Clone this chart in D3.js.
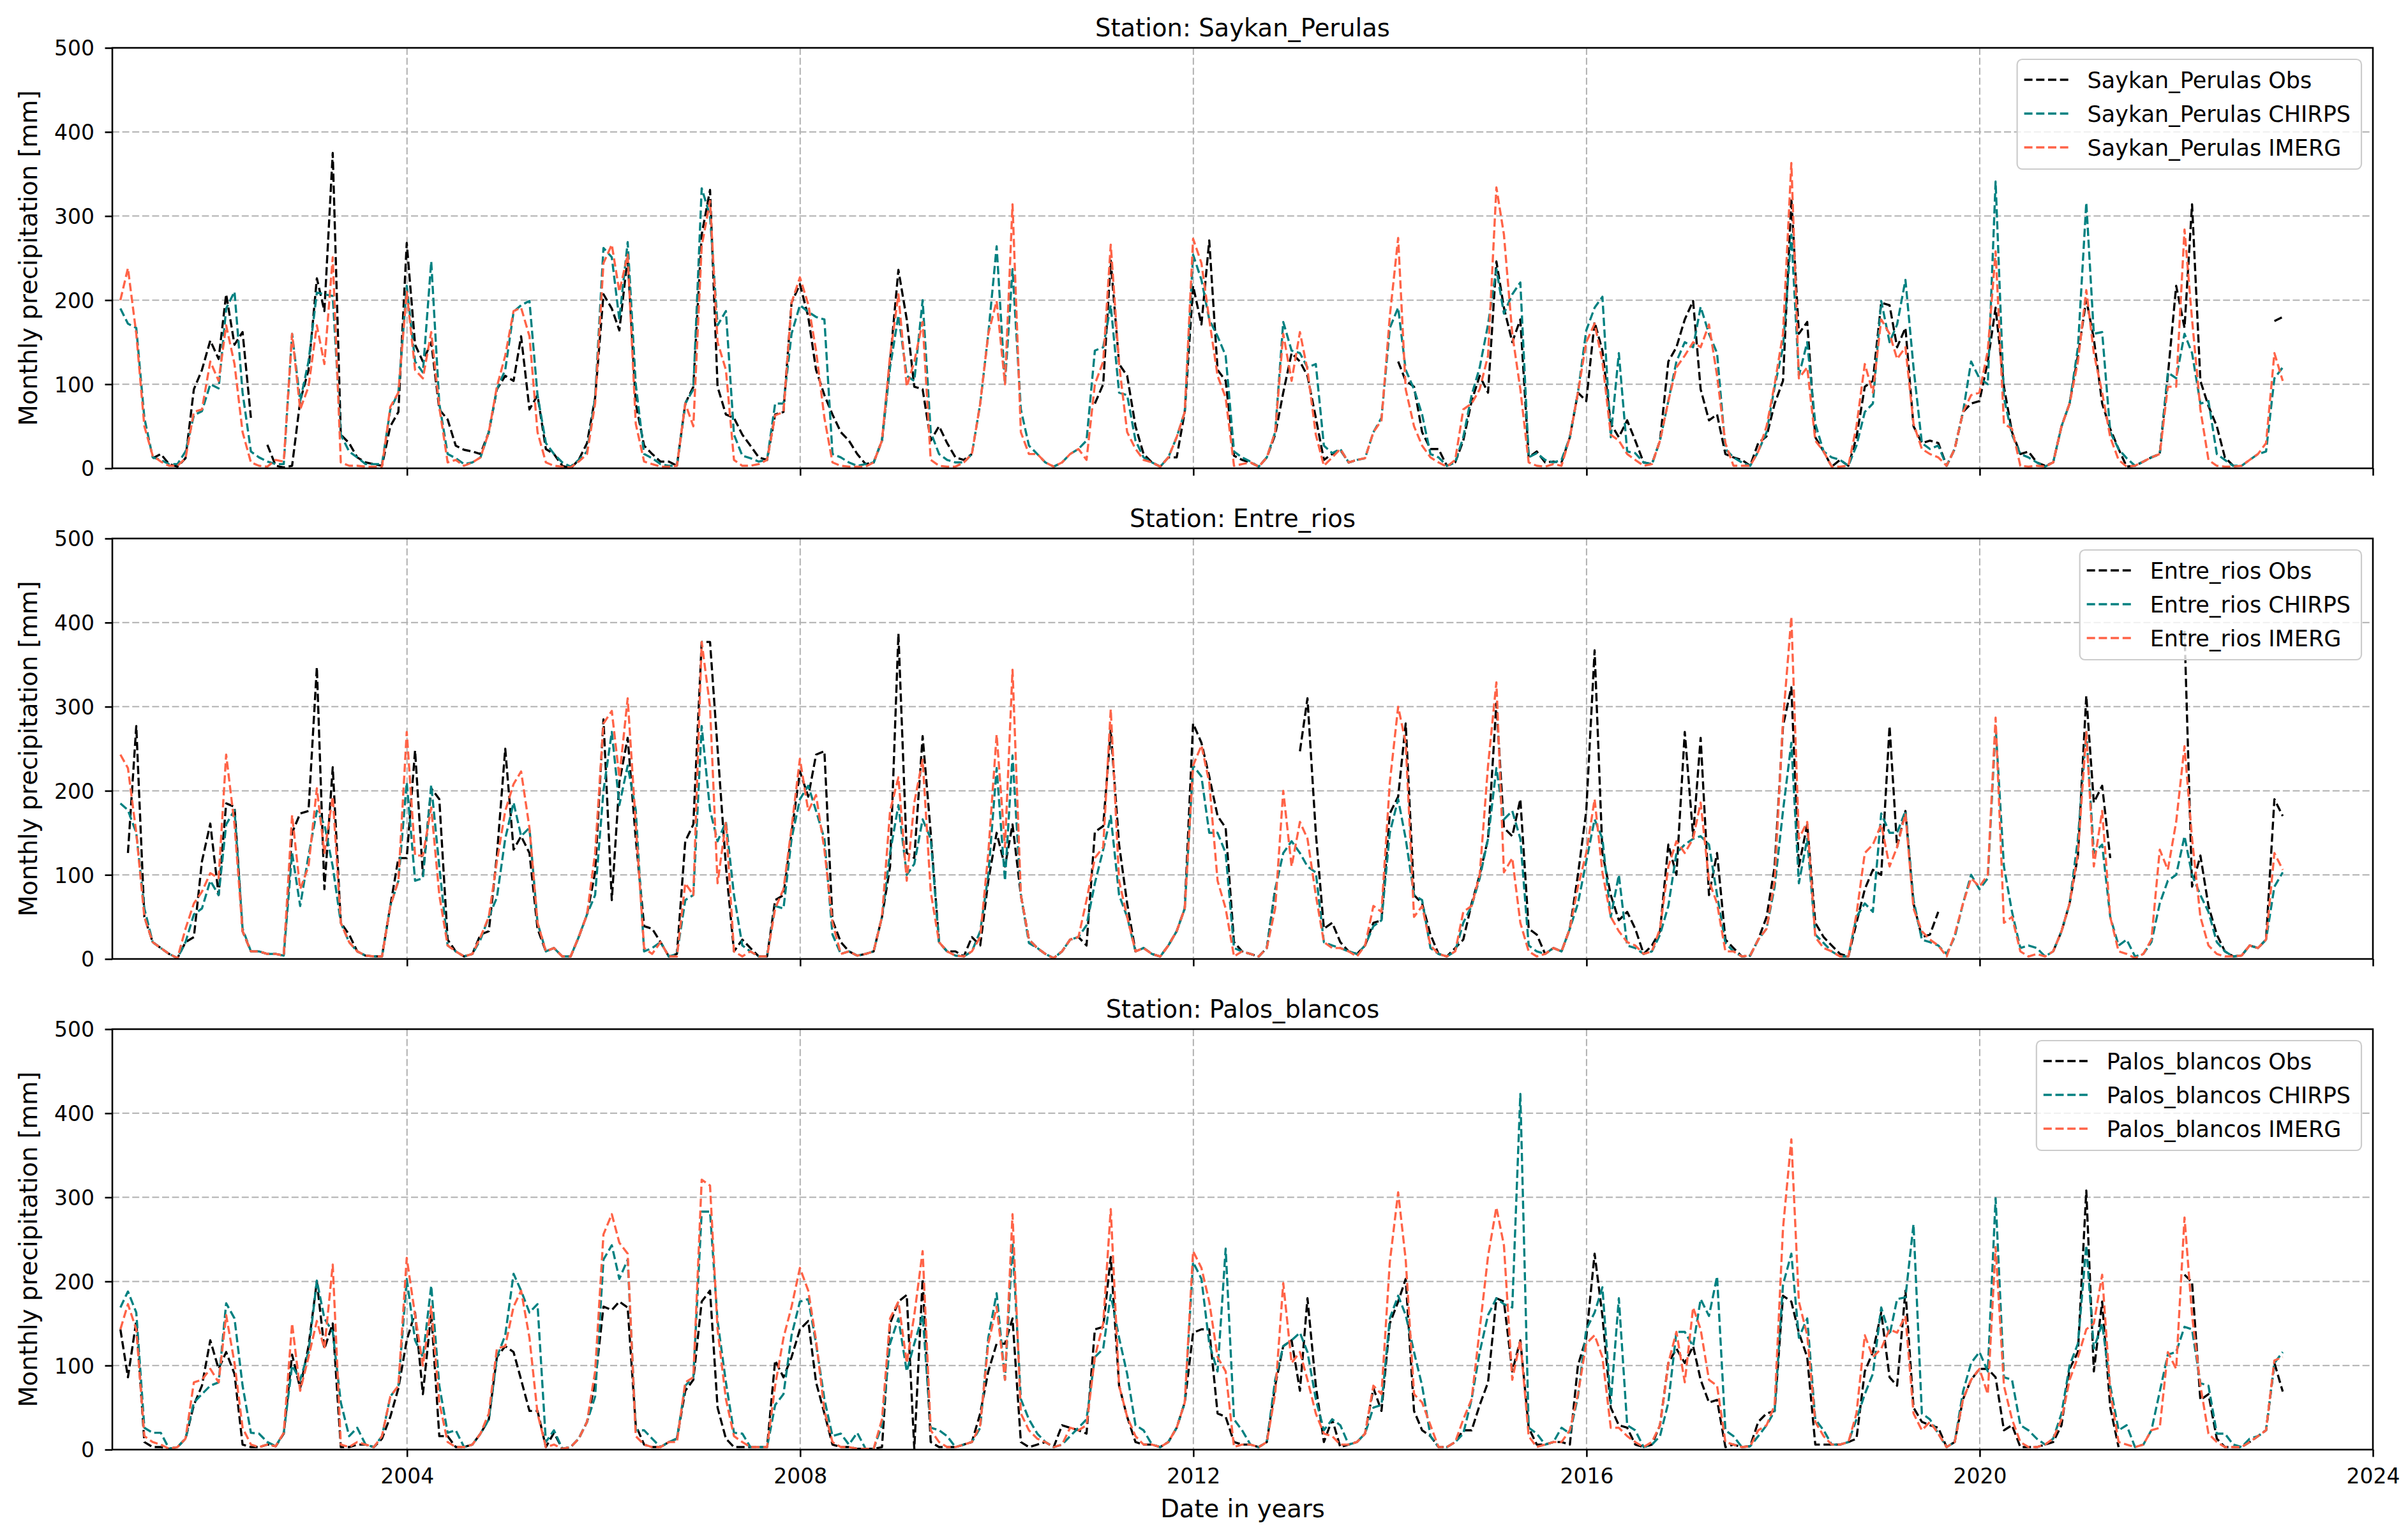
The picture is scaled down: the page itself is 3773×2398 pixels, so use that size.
<!DOCTYPE html>
<html><head><meta charset="utf-8">
<script src="https://cdn.jsdelivr.net/npm/d3@7"></script>
<style>html,body{margin:0;padding:0;background:#fff;} svg{display:block;}</style>
</head><body><svg id="chart"></svg>
<script>
// ---------------- data ----------------
const stations = ["Saykan_Perulas", "Entre_rios", "Palos_blancos"];
const sources = ["Obs", "CHIRPS", "IMERG"];
const yTicks = [0, 100, 200, 300, 400, 500];
const xTickYears = [2004, 2008, 2012, 2016, 2020, 2024];
const firstYear = 2001, nMonths = 265; // monthly series Jan 2001 .. Jan 2023

const spObs = [
null,null,null,null,12,17,5,2,12,94,117,152,
130,207,147,162,60,null,28,3,1,3,80,117,
226,187,375,40,30,13,7,5,3,50,67,268,
147,127,150,70,58,27,22,20,17,43,94,110,
104,157,70,87,23,17,3,0,10,30,84,207,
190,164,251,77,27,17,8,8,3,77,97,278,
331,97,64,60,40,27,13,10,64,67,197,219,
180,117,87,64,43,33,17,5,7,33,127,236,
177,97,94,33,50,30,13,10,17,null,null,null,
null,null,null,null,null,null,null,null,null,null,null,77,
100,247,124,110,50,17,7,2,13,13,67,217,
171,271,117,104,15,10,7,2,13,40,90,137,
127,110,60,10,17,22,7,10,null,null,null,null,
127,104,97,43,23,23,3,7,33,80,110,90,
246,191,150,177,13,20,7,8,7,37,90,80,
174,140,53,37,57,33,7,5,33,127,144,177,
199,94,57,64,17,13,10,3,30,38,77,104,
321,160,174,37,20,2,10,3,37,97,104,197,
194,144,167,50,30,33,30,3,23,67,77,80,
127,191,97,43,17,20,7,3,7,50,77,134,
201,154,77,47,23,2,3,8,13,17,110,217,
167,314,104,74,50,13,3,null,null,null,null,175,
180];
const spChirps = [
190,172,167,60,13,10,5,5,20,63,68,100,
95,190,210,90,20,13,8,5,5,160,80,127,
209,207,205,40,20,13,5,5,5,70,90,217,
127,114,246,77,17,12,5,7,13,43,94,117,
186,194,199,87,30,17,7,2,10,20,84,262,
251,177,269,100,17,12,5,3,3,77,94,333,
300,170,187,40,15,12,8,10,77,77,160,194,
186,180,177,17,13,7,3,5,7,33,120,182,
110,104,200,43,17,10,7,7,17,77,160,264,
100,237,70,27,17,7,2,7,17,23,33,140,
144,194,90,87,33,13,7,2,13,37,67,254,
224,177,157,134,20,13,8,2,13,43,174,140,
137,120,124,27,18,23,7,10,12,43,60,167,
191,117,94,64,17,13,3,7,37,87,120,171,
237,184,207,221,13,18,10,7,10,37,90,164,
191,204,37,137,20,18,7,5,33,80,127,150,
144,192,160,137,23,13,7,3,20,43,97,144,
278,110,150,53,20,13,10,3,27,67,77,199,
150,171,224,120,30,23,27,3,23,67,127,107,
100,341,84,40,17,13,7,2,7,50,77,144,
316,160,162,43,23,12,3,8,13,17,114,107,
160,137,77,80,17,10,3,3,10,17,20,107,
120];
const spImerg = [
200,238,160,50,15,8,3,3,12,67,70,127,
104,170,124,43,7,3,2,10,8,160,70,97,
170,124,251,7,3,3,2,2,2,73,90,210,
117,107,162,73,7,10,3,7,13,43,97,134,
187,191,157,43,7,3,2,1,8,17,77,244,
266,210,254,53,8,5,2,2,3,77,50,264,
318,150,117,10,3,3,5,10,63,67,197,227,
195,140,60,7,3,2,2,2,7,33,134,207,
97,127,174,10,3,2,2,7,17,77,160,199,
100,314,43,17,17,7,2,7,17,23,10,100,
127,266,124,43,23,10,7,2,13,37,67,273,
244,177,110,84,3,5,7,2,13,43,160,104,
162,117,40,3,13,23,7,10,12,43,57,181,
274,94,50,27,13,7,2,10,70,77,94,134,
334,278,160,94,7,3,2,5,3,37,90,150,
172,127,40,33,17,10,3,5,33,80,120,134,
150,144,171,110,30,3,3,3,20,50,100,160,
363,107,120,33,20,2,2,3,50,124,90,177,
160,130,144,53,23,17,13,3,23,67,87,90,
140,258,53,47,3,2,3,2,7,50,77,127,
212,137,90,37,10,2,3,8,13,17,97,97,
284,177,70,10,3,2,2,3,10,17,30,137,
104];

const erObs = [
null,126,277,50,20,13,6,1,20,26,116,161,
76,185,181,33,9,9,6,6,4,150,173,176,
347,83,228,43,29,9,4,3,3,63,120,120,
248,100,203,190,23,9,3,6,29,33,123,250,
130,146,126,36,9,13,3,3,26,53,103,285,
70,210,263,143,39,36,20,3,6,140,160,377,
377,250,110,9,23,13,3,3,70,76,150,223,
193,243,247,46,20,9,4,6,9,50,110,387,
126,120,265,150,20,9,9,3,26,16,93,150,
110,160,76,23,13,6,1,9,23,26,16,151,
158,272,136,66,9,13,6,3,16,33,60,280,
257,217,170,156,20,9,6,3,13,83,null,null,
247,310,150,36,43,20,9,6,16,43,46,173,
193,280,76,66,29,6,3,13,23,66,100,143,
304,156,146,190,36,29,6,13,9,36,100,176,
367,126,76,46,56,36,6,16,33,136,100,270,
146,263,76,126,23,13,3,4,23,50,110,277,
323,110,160,43,26,16,6,3,43,83,106,100,
277,133,176,66,26,29,56,null,null,null,null,null,
null,null,null,null,null,null,null,null,9,33,66,123,
313,186,206,120,null,null,null,null,null,null,null,null,
390,86,123,63,29,9,3,4,16,13,23,190,
170];
const erChirps = [
185,177,150,60,20,13,6,1,20,53,60,93,
76,160,177,36,9,9,6,6,4,126,63,123,
176,160,110,43,20,9,4,3,3,63,93,210,
93,96,207,110,16,9,3,6,23,50,73,143,
186,146,156,43,9,13,3,3,26,53,76,200,
270,183,230,177,9,13,20,3,6,70,76,277,
177,140,163,76,16,9,3,3,63,60,143,190,
206,176,143,29,6,9,4,6,9,50,126,183,
100,113,166,143,20,9,4,3,9,33,100,227,
93,242,76,19,13,6,1,9,23,26,40,90,
130,170,76,50,9,13,6,3,16,33,60,230,
217,150,150,126,13,9,6,3,13,83,126,140,
126,110,103,20,16,13,9,6,16,39,46,150,
190,143,76,70,13,6,3,9,43,63,96,143,
227,166,176,143,16,9,6,13,9,36,66,116,
166,143,50,100,16,13,6,9,29,63,126,136,
143,146,136,76,19,9,3,4,23,36,86,176,
257,90,143,29,19,9,3,3,50,66,56,173,
150,150,176,70,23,20,16,6,26,66,100,83,
96,277,110,56,13,16,13,3,9,33,66,143,
270,126,136,50,16,23,3,6,20,66,93,100,
146,100,76,56,20,9,3,4,16,13,23,86,
103];
const erImerg = [
243,227,150,50,20,13,6,1,36,66,80,102,
96,243,160,33,9,9,6,6,4,171,83,110,
203,126,193,43,20,9,4,3,3,63,93,270,
123,123,180,76,16,9,3,6,26,50,116,176,
208,223,156,43,9,13,3,3,26,53,126,280,
295,216,310,160,13,6,20,3,3,90,76,377,
300,90,163,9,3,9,3,3,60,83,156,238,
176,195,130,43,6,9,4,6,9,50,176,216,
93,186,237,80,20,9,4,3,9,26,126,267,
133,344,76,23,13,6,1,9,23,26,70,120,
133,297,93,50,9,13,6,3,16,33,60,230,
254,210,93,60,3,9,6,3,13,60,200,110,
163,143,76,20,13,13,9,3,16,63,56,210,
300,257,50,63,16,6,3,9,56,63,100,230,
329,103,120,43,9,3,6,13,9,36,86,126,
190,103,50,33,20,16,6,9,36,110,140,126,
143,186,93,66,9,9,3,4,23,36,93,283,
407,143,163,26,13,9,3,3,53,126,136,160,
110,133,173,60,33,23,16,3,29,66,96,86,
100,287,43,50,9,3,6,3,9,33,66,126,
270,110,176,50,9,6,1,6,23,130,106,163,
253,143,50,16,6,3,3,4,16,13,23,126,
106];

const pbObs = [
143,86,153,9,3,3,1,3,13,53,76,130,
96,116,90,6,3,3,6,4,19,113,73,123,
200,120,150,3,3,6,6,3,13,39,73,130,
163,66,163,16,16,3,3,6,19,36,110,123,
116,83,46,46,3,20,1,3,13,33,80,170,
166,176,169,29,6,3,3,9,13,70,83,176,
189,50,13,3,3,3,3,3,106,86,110,143,
153,80,43,6,3,3,1,1,1,3,150,176,
184,1,203,9,3,3,3,6,9,43,93,126,
126,156,9,3,6,9,3,29,26,23,19,143,
146,229,76,39,9,6,6,3,9,26,56,139,
143,143,43,39,9,6,6,3,9,76,123,130,
70,180,76,9,36,3,6,9,19,73,46,150,
176,203,46,23,16,3,3,9,23,23,53,80,
180,176,93,130,26,6,6,9,9,6,100,133,
233,159,50,29,26,6,3,6,29,103,120,103,
123,83,56,59,3,6,3,4,33,43,46,183,
176,139,110,6,6,6,6,9,13,93,116,163,
86,76,189,50,33,29,26,3,9,60,83,96,
96,86,23,29,3,3,3,6,9,29,96,116,
308,93,176,50,3,null,null,null,null,null,null,null,
208,199,59,66,13,3,3,3,9,16,23,103,
69];
const pbChirps = [
169,188,163,26,20,20,1,3,13,56,66,76,
80,174,156,76,20,19,9,4,20,100,83,116,
201,156,140,56,16,26,6,3,16,63,76,203,
130,110,195,76,20,23,3,6,19,36,110,136,
209,189,163,173,9,23,1,3,13,33,63,226,
243,203,226,23,23,13,3,9,13,76,86,283,
283,153,80,20,19,3,3,3,53,66,136,176,
179,126,60,16,19,6,20,1,1,29,126,156,
93,126,160,26,23,16,3,6,9,26,133,186,
83,246,60,36,19,9,3,6,16,26,36,110,
120,184,133,90,29,23,6,3,9,26,56,223,
203,126,93,239,36,23,6,3,9,83,123,130,
139,116,60,23,36,29,6,9,19,50,53,156,
183,160,116,76,16,3,3,9,19,60,116,160,
180,173,169,423,26,19,6,9,26,19,63,143,
163,193,55,180,29,23,3,6,16,56,140,140,
123,179,159,206,23,16,3,4,16,29,46,196,
233,133,156,36,23,6,6,9,36,66,90,169,
136,179,181,268,43,36,19,3,9,69,103,116,
93,299,86,83,29,23,13,6,13,43,100,126,
243,120,150,76,23,29,3,6,23,69,113,116,
146,143,79,76,19,19,6,3,13,16,23,103,
116];
const pbImerg = [
143,173,143,16,9,6,1,3,13,80,83,96,
80,160,103,26,6,3,6,4,20,150,70,110,
153,120,220,6,3,9,6,3,16,63,76,228,
160,100,170,56,9,3,3,6,19,43,120,123,
170,189,133,43,3,6,1,3,13,33,93,256,
280,246,233,16,6,3,3,9,9,80,86,321,
314,143,60,16,9,3,3,3,76,133,170,216,
189,130,46,9,3,3,1,1,1,36,156,176,
103,160,236,23,9,3,3,6,9,29,126,170,
83,280,43,23,13,9,3,6,26,23,29,110,
150,286,76,39,16,6,6,3,9,26,56,236,
216,176,110,93,3,6,6,3,9,66,198,103,
116,83,43,19,16,6,6,9,19,76,66,223,
306,226,66,56,29,3,3,9,36,60,143,230,
288,243,83,130,16,3,6,9,9,23,66,126,
136,110,26,26,16,9,3,9,29,103,140,80,
169,143,83,76,9,6,3,4,23,29,53,263,
369,176,136,33,16,6,6,9,43,136,110,120,
143,139,159,43,23,33,19,3,9,60,83,96,
66,241,76,36,9,3,3,6,13,36,83,110,
143,150,208,69,9,6,3,6,23,26,116,96,
276,160,76,19,9,3,3,3,9,16,23,106,
110];

const panelSeries = [
  [spObs, spChirps, spImerg],
  [erObs, erChirps, erImerg],
  [pbObs, pbChirps, pbImerg]
];

// ---------------- drawing ----------------
const W = 3773, H = 2398;
const plotLeft = 176, plotRight = 3718;
const panelTops = [75, 844, 1613];
const panelH = 659;
const colors = ["#000000", "#008080", "#ff6347"];
const FONT = "DejaVu Sans, sans-serif";

// monthly timestamps (end of each month)
const months = d3.range(nMonths).map(i => new Date(firstYear, i + 1, 0));

const svg = d3.select("#chart")
  .attr("width", W).attr("height", H)
  .attr("viewBox", `0 0 ${W} ${H}`)
  .style("font-family", FONT);
svg.append("rect").attr("width", W).attr("height", H).attr("fill", "#fff");

const x = d3.scaleTime()
  .domain([new Date(2001, 0, 1), new Date(2024, 0, 1)])
  .range([plotLeft, plotRight]);
const xTickDates = xTickYears.map(y => new Date(y, 0, 1));

panelSeries.forEach((series, p) => {
  const top = panelTops[p], bottom = top + panelH;
  const y = d3.scaleLinear().domain([0, 500]).range([bottom, top]);
  const g = svg.append("g");

  // grid
  const grid = g.append("g").attr("stroke", "#b0b0b0").attr("stroke-width", 2)
    .attr("stroke-dasharray", "11,4.6").attr("fill", "none");
  xTickDates.forEach(d => grid.append("line")
    .attr("x1", x(d)).attr("x2", x(d)).attr("y1", top).attr("y2", bottom));
  yTicks.forEach(v => grid.append("line")
    .attr("x1", plotLeft).attr("x2", plotRight).attr("y1", y(v)).attr("y2", y(v)));

  // lines
  const line = d3.line()
    .defined(d => d.v !== null && d.v !== undefined)
    .x(d => x(d.t)).y(d => y(d.v));
  series.forEach((vals, s) => {
    const data = months.map((t, i) => ({ t, v: vals[i] }));
    g.append("path").datum(data)
      .attr("d", line)
      .attr("fill", "none")
      .attr("stroke", colors[s])
      .attr("stroke-width", 3.4)
      .attr("stroke-dasharray", "13,5.7")
      .attr("stroke-linejoin", "round");
  });

  // axes
  const xAxis = d3.axisBottom(x).tickValues(xTickDates)
    .tickFormat(p === 2 ? d3.timeFormat("%Y") : () => "")
    .tickSize(11.5).tickPadding(18);
  const xa = g.append("g").attr("transform", `translate(0,${bottom})`).call(xAxis);
  const yAxis = d3.axisLeft(y).tickValues(yTicks).tickSize(11.5).tickPadding(16.5);
  const ya = g.append("g").attr("transform", `translate(${plotLeft},0)`).call(yAxis);
  [xa, ya].forEach(a => {
    a.select(".domain").remove();
    a.attr("font-family", FONT).attr("font-size", 33);
    a.selectAll(".tick line").attr("stroke", "#000").attr("stroke-width", 2.6);
    a.selectAll(".tick text").attr("fill", "#000");
  });
  ya.selectAll(".tick text").attr("dy", "0.36em");

  // spines
  g.append("rect").attr("x", plotLeft).attr("y", top)
    .attr("width", plotRight - plotLeft).attr("height", panelH)
    .attr("fill", "none").attr("stroke", "#000").attr("stroke-width", 2.6);

  // title
  g.append("text").attr("x", (plotLeft + plotRight) / 2).attr("y", top - 18)
    .attr("text-anchor", "middle").attr("font-size", 38.5).attr("fill", "#000")
    .text(`Station: ${stations[p]}`);

  // y label
  g.append("text")
    .attr("transform", `translate(58,${top + panelH / 2}) rotate(-90)`)
    .attr("text-anchor", "middle").attr("font-size", 38.5).attr("fill", "#000")
    .text("Monthly precipitation [mm]");

  // legend
  const lg = g.append("g");
  const box = lg.append("rect");
  const labels = sources.map(s => `${stations[p]} ${s}`);
  let maxW = 0;
  const texts = labels.map((lab, k) => {
    const t = lg.append("text").attr("font-size", 35).attr("fill", "#000").text(lab);
    maxW = Math.max(maxW, t.node().getComputedTextLength());
    return t;
  });
  const boxW = 110 + maxW + 17, boxH = 172;
  const bx = 3700 - boxW, by = top + 18;
  box.attr("x", bx).attr("y", by).attr("width", boxW).attr("height", boxH)
    .attr("rx", 8).attr("fill", "#fff").attr("fill-opacity", 0.8)
    .attr("stroke", "#cccccc").attr("stroke-width", 2.2);
  labels.forEach((lab, k) => {
    const cy = by + 32 + k * 53;
    lg.append("line").attr("x1", bx + 11).attr("x2", bx + 81)
      .attr("y1", cy).attr("y2", cy)
      .attr("stroke", colors[k]).attr("stroke-width", 3.4)
      .attr("stroke-dasharray", "13,5.7");
    texts[k].attr("x", bx + 110).attr("y", cy).attr("dy", "0.36em");
  });
});

// x label
svg.append("text").attr("x", (plotLeft + plotRight) / 2).attr("y", 2378)
  .attr("text-anchor", "middle").attr("font-size", 38.5).attr("fill", "#000")
  .text("Date in years");

// sanity check on series lengths
const bad = [];
panelSeries.flat().forEach((a, i) => { if (a.length !== nMonths) bad.push(i + ":" + a.length); });
if (bad.length) throw new Error("Series length mismatch " + bad.join(","));
</script>
</body></html>
